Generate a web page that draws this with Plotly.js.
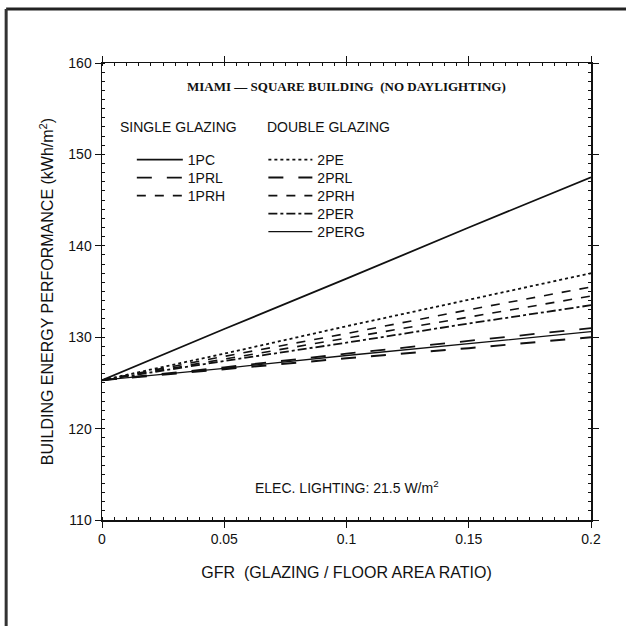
<!DOCTYPE html>
<html>
<head>
<meta charset="utf-8">
<script src="https://cdn.plot.ly/plotly-3.0.1.min.js"></script>
<style>html,body{margin:0;padding:0;background:#fff;}#chart{width:626px;height:626px;}</style>
</head>
<body>
<div id="chart"></div>
<script>
const gfr = [0, 0.05, 0.1, 0.15, 0.2];
const names = ["1PC", "1PRL", "1PRH", "2PE", "2PRL", "2PRH", "2PER", "2PERG"];
const v1PC   = [125.3, 130.9, 136.4, 142.0, 147.5];
const v1PRL  = [125.3, 126.7, 128.2, 129.6, 131.0];
const v1PRH  = [125.3, 127.6, 129.9, 132.2, 134.5];
const v2PE   = [125.3, 128.2, 131.2, 134.1, 137.0];
const v2PRL  = [125.3, 126.5, 127.7, 128.8, 130.0];
const v2PRH  = [125.3, 127.9, 130.4, 133.0, 135.5];
const v2PER  = [125.3, 127.4, 129.4, 131.5, 133.5];
const v2PERG = [125.3, 126.6, 128.0, 129.3, 130.6];
const values = [v1PC, v1PRL, v1PRH, v2PE, v2PRL, v2PRH, v2PER, v2PERG];
const dashes = ["solid", "longdash", "dash", "dot", "longdash", "dash", "dashdot", "solid"];
const widths = [1.8, 1.8, 1.6, 1.8, 2.0, 1.6, 1.8, 1.3];
const xTicks = [0, 0.05, 0.1, 0.15, 0.2];
const xTickText = ["0", "0.05", "0.1", "0.15", "0.2"];

// legend entry placement (paper coords): column x, row y
const legX = [0.061, 0.061, 0.061, 0.33, 0.33, 0.33, 0.33, 0.33];
const legY = [0.7877, 0.7484, 0.7090, 0.7877, 0.7484, 0.7090, 0.6696, 0.6302];
const legW = [46, 46, 46, 44, 44, 44, 44, 44];

const legKey = i => (i === 0 ? "legend" : "legend" + (i + 1));

const traces = names.map((n, i) => ({
  x: gfr, y: values[i], name: n, type: "scatter", mode: "lines",
  line: {color: "#111", width: widths[i], dash: dashes[i]},
  legend: legKey(i)
}));

const sans = "Liberation Sans, Arial, sans-serif";
const tickFont = {family: sans, size: 14, color: "#111"};
const titleFont = {family: sans, size: 16, color: "#111"};
const legFont = {family: sans, size: 14, color: "#111"};

const layout = {
  width: 626, height: 626,
  margin: {l: 102, r: 35, t: 63, b: 106},
  paper_bgcolor: "#fff", plot_bgcolor: "#fff",
  showlegend: true,
  xaxis: {
    range: [0, 0.2], tickvals: xTicks, ticktext: xTickText,
    showgrid: false, zeroline: false, showline: true, linecolor: "#111", linewidth: 1.5,
    mirror: "allticks", ticks: "outside", ticklen: 6, tickcolor: "#111",
    minor: {dtick: 0.005, ticks: "inside", ticklen: 3, tickcolor: "#111"},
    tickfont: tickFont,
    title: {text: "GFR  (GLAZING / FLOOR AREA RATIO)", font: titleFont, standoff: 20}
  },
  yaxis: {
    range: [110, 160], dtick: 10,
    showgrid: false, zeroline: false, showline: true, linecolor: "#111", linewidth: 1.5,
    mirror: "allticks", ticks: "outside", ticklen: 6, tickcolor: "#111",
    minor: {dtick: 1, ticks: "inside", ticklen: 3, tickcolor: "#111"},
    tickfont: tickFont,
    title: {text: "BUILDING ENERGY PERFORMANCE (kWh/m<sup>2</sup>)", font: titleFont, standoff: 10}
  },
  annotations: [
    {xref: "paper", yref: "paper", x: 0.5, y: 0.9475, yanchor: "middle", showarrow: false,
     text: "<b>MIAMI — SQUARE BUILDING  (NO DAYLIGHTING)</b>",
     font: {family: "Liberation Serif, Times New Roman, serif", size: 13, color: "#111"}},
    {xref: "paper", yref: "paper", x: 0.033, y: 0.86, xanchor: "left", yanchor: "middle", showarrow: false,
     text: "SINGLE GLAZING", font: legFont},
    {xref: "paper", yref: "paper", x: 0.333, y: 0.86, xanchor: "left", yanchor: "middle", showarrow: false,
     text: "DOUBLE GLAZING", font: legFont},
    {xref: "x", yref: "y", x: 0.1, y: 113.6, showarrow: false,
     text: "ELEC. LIGHTING: 21.5 W/m<sup>2</sup>", font: legFont}
  ],
  shapes: [
    {type: "line", xref: "paper", yref: "paper", x0: -0.196, x1: 1.1, y0: 1.118, y1: 1.118,
     line: {color: "#222", width: 3}},
    {type: "line", xref: "paper", yref: "paper", x0: -0.196, x1: -0.196, y0: 1.118, y1: -0.25,
     line: {color: "#333", width: 3}}
  ]
};

names.forEach((n, i) => {
  layout[legKey(i)] = {
    x: legX[i], y: legY[i], xanchor: "left", yanchor: "middle",
    bgcolor: "rgba(0,0,0,0)", font: legFont, itemwidth: legW[i]
  };
});

Plotly.newPlot("chart", traces, layout, {displayModeBar: false, staticPlot: true});
</script>
</body>
</html>
